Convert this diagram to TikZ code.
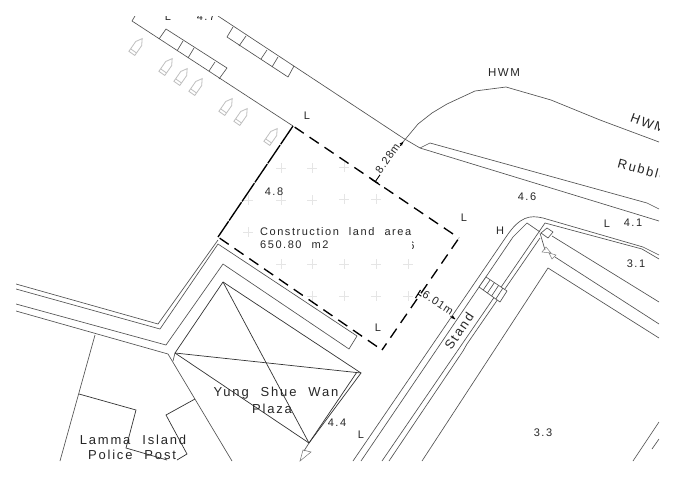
\documentclass[tikz,border=0pt]{standalone}
\usepackage{fontspec}
\setmainfont{Liberation Sans}
\newfontfamily\cad[LetterSpace=14,WordSpace=2.2]{Liberation Sans}
\newfontfamily\cadn[LetterSpace=8]{Liberation Sans}
\tikzset{
  ln/.style={draw=black!68,line width=0.65pt,line join=miter},
  dk/.style={draw=black!80,line width=0.7pt},
  bd/.style={draw=black,line width=1.35pt},
  bdash/.style={bd,dash pattern=on 11pt off 7pt},
  lbl/.style={font=\cad\fontsize{11}{13}\selectfont,inner sep=0pt,text=black!85},
  lblb/.style={font=\cad\fontsize{11.5}{13}\selectfont,inner sep=0pt,text=black!85},
  lblc/.style={font=\cad\fontsize{13}{15}\selectfont,inner sep=0pt,text=black!85},
  boatline/.style={draw=black!25,line width=0.8pt},
  crs/.style={draw=black!10,line width=0.5pt},
  dimlab/.style={font=\cadn\fontsize{11}{13}\selectfont,inner xsep=0.5pt,inner ysep=2.5pt,fill=white,text=black!85}
}
\newcommand\boatat[2]{\begin{scope}[shift={(#1,#2)},rotate=55]
  \draw[boatline] (-9,-3.6)--(3,-3.6)--(9,0)--(3,3.6)--(-9,3.6)--cycle (-6,-3.6)--(-6,3.6);
\end{scope}}
\newcommand\crossat[2]{\draw[crs] (#1-5,#2)--(#1+5,#2) (#1,#2-5)--(#1,#2+5);}
\begin{document}
\begin{tikzpicture}[x=1pt,y=-1pt]
\useasboundingbox[fill=white] (0,0) rectangle (675,477);
\begin{scope}
\clip (16,16) rectangle (659,461);
% grid crosses
\crossat{281}{168}\crossat{312}{168}\crossat{344}{167}
\crossat{248}{200}\crossat{281}{200}\crossat{312}{200}\crossat{344}{199}\crossat{376}{199}
\crossat{248}{232}
\crossat{281}{264}\crossat{312}{264}\crossat{344}{264}\crossat{376}{264}\crossat{408}{264}
\crossat{312}{296}\crossat{344}{296}\crossat{376}{296}\crossat{408}{296}
% boats
\boatat{137}{46}\boatat{167}{66}\boatat{182}{76}\boatat{197}{86}
\boatat{227}{106}\boatat{242}{116}\boatat{272}{136}
% dimension lines (under the piers)
\coordinate (d1a) at (375,182);
\coordinate (d1b) at (403,142);
\draw[bd,line width=0.9pt] (d1a)--(d1b);
\coordinate (d2a) at (418,294);
\coordinate (d2b) at (455,319);
\draw[bd,line width=0.9pt] (d2a)--(d2b);
\node[dimlab,rotate=55] (nd1) at (387.5,158.5) {8.28m};
\node[dimlab,rotate=-33] (nd2) at (438,303) {6.01m};
% piers
\draw[ln] (135,16)--(132,21)--(293,126);
\draw[ln] (218,16)--(403,138)--(420,148)--(659,221);
\draw[ln] (420,148)--(430,143)--(647,203)--(659,209);
\draw[ln] (159,39)--(166,29)--(227,68)--(219,79);
\draw[ln] (183,41)--(177,51) (194,48)--(188,58) (215,62)--(209,71);
\draw[ln] (233,27)--(227,37)--(288,77)--(294,66);
\draw[ln] (246,36)--(239,46) (267,50)--(261,59) (278,57)--(272,67);
% HWM
\draw[ln] (403,142)--(418,124)--(432,113)--(447,104)--(475,91)--(506,87)--(551,100)--(600,120)--(659,142);
% road left
\draw[ln] (16,284)--(158,324)--(218,240);
\draw[ln] (16,289)--(160,329)--(218,244)--(357,336)--(349,349)--(223,264)--(166,345)--(16,304);
\draw[ln] (16,311)--(168,354)--(232,461);
% building
\draw[ln] (173,361)--(175,353);
\draw[dk] (175,353)--(223,282)--(361,373)--(309,443)--cycle;
\draw[dk] (357,372)--(309,443);
\draw[dk] (175,353)--(361,373);
\draw[dk] (223,282)--(309,443);
\draw[ln] (309,443)--(304,451);
\draw[draw=black!55,line width=0.5pt] (300,461)--(311,452)--(303,450)--cycle;
% police
\draw[ln] (95,335)--(60,461);
\draw[dk] (79,394)--(136,410)--(126,448)--(167,460);
\draw[dk] (177,460)--(187,454)--(166,415)--(195,399);
% roads right
\draw[ln] (353,461)--(506,237) .. controls (520,216) and (530,215) .. (543,218)--(643,247)--(659,255);
\draw[ln] (361,461)--(513,237)--(527,223)--(540,232);
\draw[ln] (382,461)--(545,223)--(642,249)--(659,259);
\draw[ln] (389,461)--(463,351)--(467,344)--(540,238);
\draw[ln] (422,461)--(548,268)--(659,338);
\draw[ln] (552,236)--(659,302);
\draw[ln] (555,257)--(659,324);
\draw[ln] (633,461)--(659,422);
\draw[ln] (652,449)--(659,439);
% small square and arrows
\draw[ln] (541,233)--(547,228)--(553,232)--(548,238)--cycle;
\draw[ln] (540,233)--(545,250);
\draw[draw=black!50,line width=0.5pt] (542,252)--(546,247)--(551,253)--cycle;
\draw[draw=black!50,line width=0.5pt] (549,253)--(556,255)--(552,259)--cycle;
% stairs
\draw[ln,fill=white] (486,277)--(507,291)--(500,302)--(479,287)--cycle;
\draw[ln] (490.2,279.8)--(483.2,290) (494.4,282.6)--(487.4,293) (498.6,285.4)--(491.6,296) (502.8,288.2)--(495.8,299);
% texts
\node[lbl] (n47) at (206,16.5) {4.7};
\node[lbl] (nLa) at (168,16.5) {L};
\node[lbl] (nLb) at (307,116) {L};
\node[lbl] (n48) at (274,192) {4.8};
\node[lbl,anchor=west] (nc1) at (260,232) {Construction land area};
\node[lbl,anchor=west] (nc2) at (260,245) {650.80 m2};
\begin{scope}
\clip (412.5,238) rectangle (422,254);
\node[lbl] (n6) at (411.5,246) {6};
\end{scope}
\node[lblb] (nhwm) at (504,73) {HWM};
\node[lblc,rotate=-20,anchor=west] (nhwb) at (631,117) {HWM};
\node[lblc,rotate=-15,anchor=west] (nrub) at (618,163) {Rubble};
\node[lbl] (n46) at (527,197) {4.6};
\node[lbl] (nLc) at (464,218) {L};
\node[lbl] (nH) at (500,231) {H};
\node[lbl] (nLd) at (607,224) {L};
\node[lbl] (n41) at (633,223) {4.1};
\node[lbl] (n31) at (636,264) {3.1};
\node[lbl] (n33) at (543,433) {3.3};
\node[lbl] (nLe) at (378,328) {L};
\node[lbl] (n44) at (337,423) {4.4};
\node[lbl] (nLf) at (361,435) {L};
\node[lblc] (ny1) at (276,393) {Yung Shue Wan};
\node[lblc] (ny2) at (272,409) {Plaza};
\node[lblc] (np1) at (133,440) {Lamma Island};
\node[lblc] (np2) at (132,455) {Police Post};
\node[lblc,rotate=56] (nst) at (459,331) {Stand};
% dimension ticks and tips
\draw[bd,line width=1.1pt] (371,179)--(380,185);
\fill[black] (403,142)--(399.5,143.5)--(402,145.5)--cycle;
\draw[bd,line width=1.1pt] (415.5,298)--(420.5,290);
\fill[black] (455,319)--(451,318)--(453,315.5)--cycle;
% site boundary
\draw[bd,dash pattern=on 22pt off 1pt] (293,126)--(218,237);
\draw[bdash,dash phase=-2pt] (293,126)--(459,238);
\draw[bdash,dash phase=-2pt] (459,238)--(382,350);
\draw[bdash,dash phase=-2pt] (218,237)--(382,350);
\end{scope}
\end{tikzpicture}
\end{document}
